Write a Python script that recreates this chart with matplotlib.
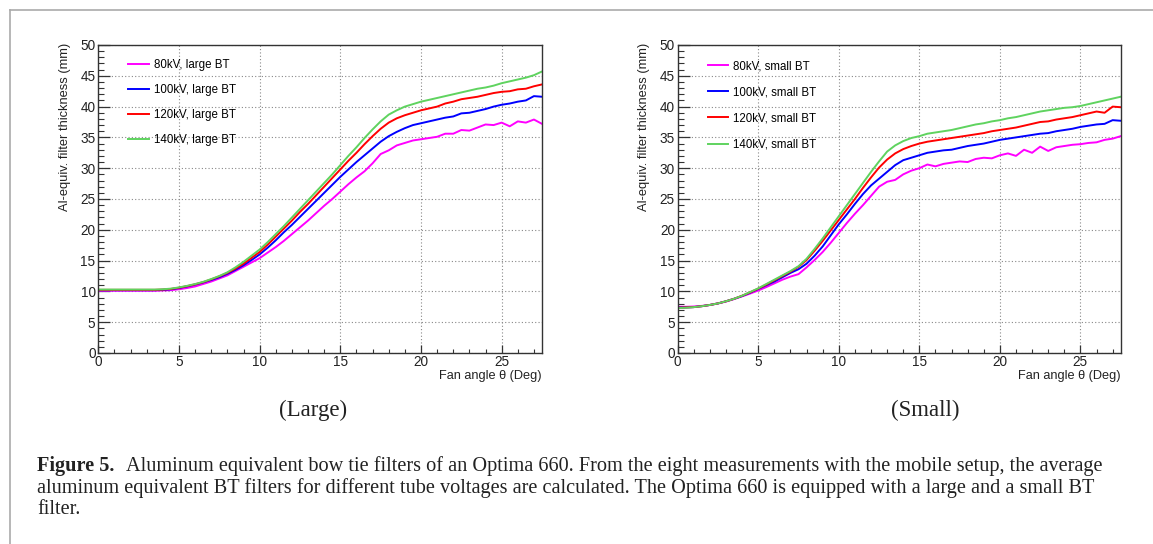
import numpy as np
import matplotlib
matplotlib.use("Agg")
import matplotlib.pyplot as plt
from matplotlib.ticker import MultipleLocator
from matplotlib.lines import Line2D

# ---------------- data ----------------
angle = np.arange(0, 27.51, 0.5)  # fan angle (deg), 56 samples

large_140 = [10.3, 10.3, 10.3, 10.3, 10.3, 10.3, 10.3, 10.3, 10.35,
             10.45, 10.65, 10.9, 11.2, 11.55, 12.0, 12.5, 13.1, 13.9, 14.8,
             15.8, 16.8, 18.0, 19.3, 20.6, 22.0, 23.4, 24.8, 26.2, 27.6,
             29.0, 30.5, 32.0, 33.4, 34.9, 36.3, 37.6, 38.7, 39.4, 40.0,
             40.4, 40.8, 41.1, 41.4, 41.7, 42.0, 42.3, 42.6, 42.9, 43.1,
             43.4, 43.8, 44.1, 44.4, 44.7, 45.1, 45.7]
large_120 = [10.25, 10.25, 10.25, 10.25, 10.25, 10.25, 10.25, 10.25, 10.3,
             10.4, 10.6, 10.85, 11.15, 11.5, 11.95, 12.45, 13.0, 13.7, 14.5,
             15.45, 16.4, 17.6, 18.9, 20.2, 21.5, 22.9, 24.2, 25.6, 27.0,
             28.4, 29.8, 31.2, 32.5, 33.9, 35.2, 36.4, 37.4, 38.1, 38.6,
             39.0, 39.4, 39.7, 40.0, 40.5, 40.8, 41.2, 41.4, 41.6, 41.9,
             42.2, 42.4, 42.5, 42.8, 42.9, 43.3, 43.6]
large_100 = [10.2, 10.2, 10.2, 10.2, 10.2, 10.2, 10.2, 10.2, 10.25,
             10.35, 10.55, 10.8, 11.1, 11.45, 11.85, 12.3, 12.85, 13.5, 14.25,
             15.1, 16.0, 17.1, 18.3, 19.6, 20.8, 22.1, 23.4, 24.7, 26.0,
             27.3, 28.6, 29.8, 31.0, 32.1, 33.2, 34.3, 35.2, 35.9, 36.5,
             37.0, 37.3, 37.6, 37.9, 38.2, 38.4, 38.9, 39.0, 39.3, 39.6,
             40.0, 40.3, 40.5, 40.8, 41.0, 41.7, 41.6]
large_80 = [10.1, 10.1, 10.1, 10.1, 10.1, 10.1, 10.1, 10.1, 10.15,
            10.2, 10.35, 10.55, 10.8, 11.2, 11.6, 12.1, 12.6, 13.3, 14.0,
            14.7, 15.4, 16.3, 17.2, 18.2, 19.3, 20.4, 21.5, 22.7, 23.9,
            25.0, 26.2, 27.4, 28.5, 29.5, 30.8, 32.3, 32.9, 33.7, 34.1,
            34.5, 34.7, 34.9, 35.1, 35.6, 35.6, 36.2, 36.1, 36.6, 37.1,
            37.0, 37.4, 36.8, 37.6, 37.4, 37.9, 37.2]

small_140 = [7.3, 7.35, 7.45, 7.6, 7.8, 8.05, 8.4, 8.8, 9.3, 9.9,
             10.5, 11.2, 11.9, 12.6, 13.3, 14.1, 15.3, 16.9, 18.6, 20.4,
             22.2, 24.0, 25.8, 27.6, 29.4, 31.1, 32.7, 33.7, 34.4, 34.9,
             35.2, 35.6, 35.8, 36.0, 36.2, 36.5, 36.8, 37.1, 37.3, 37.6,
             37.8, 38.1, 38.3, 38.6, 38.9, 39.2, 39.4, 39.6, 39.8, 39.9,
             40.1, 40.4, 40.7, 41.0, 41.3, 41.6]
small_120 = [7.35, 7.4, 7.45, 7.6, 7.8, 8.05, 8.4, 8.8, 9.3, 9.85,
             10.45, 11.1, 11.8, 12.5, 13.2, 14.0, 15.1, 16.6, 18.2, 19.9,
             21.6, 23.3, 25.0, 26.8, 28.5, 30.1, 31.4, 32.4, 33.1, 33.6,
             34.0, 34.3, 34.5, 34.7, 34.9, 35.1, 35.3, 35.5, 35.7, 36.0,
             36.2, 36.4, 36.6, 36.9, 37.2, 37.5, 37.6, 37.9, 38.1, 38.3,
             38.6, 38.9, 39.2, 39.0, 40.0, 39.9]
small_100 = [7.4, 7.4, 7.45, 7.6, 7.8, 8.05, 8.4, 8.8, 9.25, 9.8,
             10.4, 11.0, 11.6, 12.3, 13.0, 13.6, 14.5, 15.8, 17.3, 19.1,
             20.9, 22.5, 24.2, 25.8, 27.2, 28.3, 29.4, 30.5, 31.3, 31.7,
             32.1, 32.5, 32.7, 32.9, 33.0, 33.3, 33.6, 33.8, 34.0, 34.3,
             34.6, 34.8, 35.0, 35.2, 35.4, 35.6, 35.7, 36.0, 36.2, 36.4,
             36.7, 36.9, 37.1, 37.2, 37.8, 37.7]
small_80 = [7.5, 7.5, 7.55, 7.65, 7.8, 8.05, 8.35, 8.75, 9.2, 9.65,
            10.15, 10.7, 11.3, 11.9, 12.4, 12.8, 13.9, 15.1, 16.4, 17.9,
            19.5, 21.1, 22.6, 24.0, 25.5, 27.0, 27.8, 28.1, 29.0, 29.6,
            30.0, 30.6, 30.3, 30.7, 30.9, 31.1, 31.0, 31.5, 31.7, 31.6,
            32.1, 32.4, 32.0, 33.0, 32.5, 33.5, 32.8, 33.4, 33.6, 33.8,
            33.9, 34.1, 34.2, 34.6, 34.8, 35.2]

labels_large = ["80kV, large BT", "100kV, large BT", "120kV, large BT", "140kV, large BT"]
labels_small = ["80kV, small BT", "100kV, small BT", "120kV, small BT", "140kV, small BT"]
xticks = [0, 5, 10, 15, 20, 25]
yticks = [0, 5, 10, 15, 20, 25, 30, 35, 40, 45, 50]
subtitles = ["(Large)", "(Small)"]
xlabel = "Fan angle \u03b8 (Deg)"
ylabel = "Al-equiv. filter thickness (mm)"
caption_bold = "Figure 5."
caption_lines = [
    "Aluminum equivalent bow tie filters of an Optima 660. From the eight measurements with the mobile setup, the average",
    "aluminum equivalent BT filters for different tube voltages are calculated. The Optima 660 is equipped with a large and a small BT",
    "filter.",
]

colors = ["#ff00ff", "#0000ff", "#ff0000", "#5fd35f"]

# ---------------- figure ----------------
W, H = 1153, 544
fig = plt.figure(figsize=(W / 100, H / 100), dpi=100)
plt.rcParams["font.family"] = ["Liberation Sans", "DejaVu Sans"]


def px_ax(x0, x1, y0, y1):
    return [x0 / W, 1 - y1 / H, (x1 - x0) / W, (y1 - y0) / H]


ax_l = fig.add_axes(px_ax(98.3, 542, 45, 353))
ax_r = fig.add_axes(px_ax(677.7, 1120.7, 45, 353))

panels = [
    (ax_l, [large_80, large_100, large_120, large_140], labels_large, 0.953, 1.12),
    (ax_r, [small_80, small_100, small_120, small_140], labels_small, 0.950, 1.22),
]

for ax, series, labels, ytop, lsp in panels:
    handles = []
    for vals, c, lab in zip(series, colors, labels):
        h, = ax.plot(angle, vals, color=c, lw=1.4, label=lab)
        handles.append(h)
    ax.set_xlim(0, 27.5)
    ax.set_ylim(0, 50)
    ax.set_xticks(xticks)
    ax.set_yticks(yticks)
    ax.xaxis.set_minor_locator(MultipleLocator(1))
    ax.yaxis.set_minor_locator(MultipleLocator(1))
    ax.tick_params(axis="both", which="both", direction="in", colors="#333333",
                   labelcolor="#222222", labelsize=9.8, top=False, right=False)
    ax.tick_params(axis="y", which="major", length=8.6, width=0.9, pad=2)
    ax.tick_params(axis="y", which="minor", length=4.3, width=0.8)
    ax.tick_params(axis="x", which="major", length=5.5, width=0.9, pad=1.5)
    ax.tick_params(axis="x", which="minor", length=3.0, width=0.8)
    ax.grid(True, which="major", linestyle=(0, (1, 2)), color="#888888", lw=0.8)
    for s in ax.spines.values():
        s.set_color("#333333")
        s.set_linewidth(1.0)
    ax.set_xlabel(xlabel, fontsize=9.2, color="#222222", ha="right", va="center")
    ax.xaxis.set_label_coords(1.0, -0.075)
    ax.set_ylabel(ylabel, fontsize=9.3, color="#222222")
    ax.yaxis.label.set(ha="center", va="top", rotation_mode="default")
    ax.yaxis.set_label_coords(-0.075, 1.007)
    ax.legend(handles=handles, loc="upper left", bbox_to_anchor=(0.068, ytop),
              frameon=False, fontsize=8.3, handlelength=1.75, handletextpad=0.45,
              labelspacing=lsp, borderpad=0, borderaxespad=0)

# subtitles
fig.text(313 / W, 1 - 410 / H, subtitles[0], ha="center", va="center",
         family="Liberation Serif", fontsize=16.5, color="#222222")
fig.text(925 / W, 1 - 410 / H, subtitles[1], ha="center", va="center",
         family="Liberation Serif", fontsize=16.5, color="#222222")

# frame lines
fig.add_artist(Line2D([10 / W, 1], [1 - 9.5 / H, 1 - 9.5 / H], color="#aaaaaa", lw=1.2))
fig.add_artist(Line2D([10 / W, 10 / W], [1 - 9.5 / H, 0], color="#aaaaaa", lw=1.2))

# caption
cap_fs = 14.6
cap_y = [466, 488, 509]
fig.text(37 / W, 1 - cap_y[0] / H, caption_bold, ha="left", va="center",
         family="Liberation Serif", fontweight="bold", fontsize=cap_fs, color="#222222")
fig.text(126 / W, 1 - cap_y[0] / H, caption_lines[0], ha="left", va="center",
         family="Liberation Serif", fontsize=cap_fs, color="#222222")
fig.text(37 / W, 1 - cap_y[1] / H, caption_lines[1], ha="left", va="center",
         family="Liberation Serif", fontsize=cap_fs, color="#222222")
fig.text(37 / W, 1 - cap_y[2] / H, caption_lines[2], ha="left", va="center",
         family="Liberation Serif", fontsize=cap_fs, color="#222222")

fig.savefig("out.png", dpi=100)
